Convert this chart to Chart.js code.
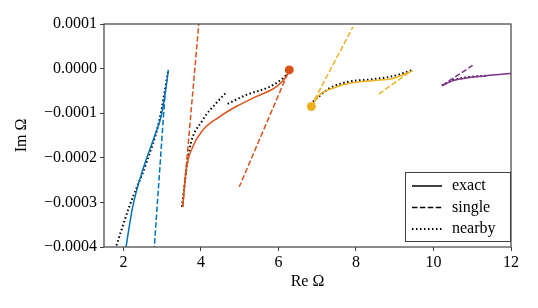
<!DOCTYPE html>
<html>
<head>
<meta charset="utf-8">
<script src="https://cdn.jsdelivr.net/npm/chart.js@4.4.0/dist/chart.umd.min.js"></script>
<style>
  html, body { margin: 0; padding: 0; background: #fff; }
  #wrap { width: 538px; height: 308px; position: relative; }
</style>
</head>
<body>
<div id="wrap"><canvas id="omegaChart"></canvas></div>
<script>
// Im values below are in units of 1e-4
const IM_UNIT = 1e-4;

const xTickValues = [2, 4, 6, 8, 10, 12];
const yTickValues = [-0.0004, -0.0003, -0.0002, -0.0001, 0, 0.0001];

// blue branch
const blueExact  = [[2.05, -4.1], [2.24, -3.10], [2.50, -2.27], [2.80, -1.53], [2.97, -1.08], [3.08, -0.55], [3.16, -0.03]];
const blueSingle = [[2.79, -4.1], [3.08, -0.50]];
const blueNearby = [[1.79, -4.05], [2.15, -3.10], [2.59, -2.12], [2.93, -1.15], [3.16, -0.03]];

// orange branch
const orangeExact   = [[3.53, -3.10], [3.62, -2.27], [3.79, -1.75], [4.05, -1.38], [4.48, -1.08], [4.91, -0.85], [5.42, -0.63], [5.94, -0.41], [6.20, -0.18], [6.28, -0.03]];
const orangeSingleA = [[3.53, -3.10], [3.95, 1.05]];
const orangeSingleB = [[6.24, -0.11], [4.99, -2.65]];
const orangeNearbyA = [[3.51, -3.10], [3.70, -1.83], [4.05, -1.15], [4.39, -0.78], [4.67, -0.52]];
const orangeNearbyB = [[4.69, -0.79], [5.17, -0.59], [5.77, -0.41], [6.11, -0.22], [6.24, -0.11]];
const orangeEnd     = [[6.28, -0.03]];

// yellow branch
const yellowExact   = [[6.85, -0.85], [7.06, -0.59], [7.40, -0.44], [7.83, -0.33], [8.43, -0.27], [8.95, -0.22], [9.47, -0.05]];
const yellowSingleA = [[6.93, -0.70], [7.92, 0.93]];
const yellowSingleB = [[8.59, -0.57], [9.35, -0.10]];
const yellowNearby  = [[6.89, -0.74], [7.32, -0.44], [7.83, -0.29], [8.43, -0.24], [8.95, -0.17], [9.47, -0.03]];
const yellowEnd     = [[6.85, -0.85]];

// purple branch
const purpleExact  = [[10.22, -0.38], [10.50, -0.27], [10.93, -0.20], [11.36, -0.16], [11.98, -0.11], [12.2, -0.10]];
const purpleSingle = [[10.22, -0.38], [11.01, 0.07]];
const purpleNearby = [[10.22, -0.38], [10.50, -0.26], [10.90, -0.19], [11.40, -0.16]];

const legendLabels = ['exact', 'single', 'nearby'];

const BLUE = '#0072BD', ORANGE = '#D95319', YELLOW = '#EDB120', PURPLE = '#7E2F8E';
const DASH = [5.5, 2.4];
const DOT = [1.5, 2.5];
const SERIF = '"Liberation Serif", "DejaVu Serif", serif';

function pts(arr) {
  return arr.map(p => ({ x: p[0], y: p[1] * IM_UNIT }));
}

function curve(arr, color, style) {
  return {
    data: pts(arr),
    showLine: true,
    borderColor: color,
    borderWidth: style === 'dot' ? 2 : 1.5,
    borderDash: style === 'dash' ? DASH : style === 'dot' ? DOT : [],
    pointRadius: 0,
    cubicInterpolationMode: 'monotone',
    fill: false
  };
}

function endDot(arr, color) {
  return {
    data: pts(arr),
    showLine: false,
    pointRadius: 4.5,
    backgroundColor: color,
    borderColor: color,
    borderWidth: 0
  };
}

const datasets = [
  curve(blueExact, BLUE, 'solid'),
  curve(blueSingle, BLUE, 'dash'),
  curve(orangeExact, ORANGE, 'solid'),
  curve(orangeSingleA, ORANGE, 'dash'),
  curve(orangeSingleB, ORANGE, 'dash'),
  curve(yellowExact, YELLOW, 'solid'),
  curve(yellowSingleA, YELLOW, 'dash'),
  curve(yellowSingleB, YELLOW, 'dash'),
  curve(purpleExact, PURPLE, 'solid'),
  curve(purpleSingle, PURPLE, 'dash'),
  curve(blueNearby, '#000', 'dot'),
  curve(orangeNearbyA, '#000', 'dot'),
  curve(orangeNearbyB, '#000', 'dot'),
  curve(yellowNearby, '#000', 'dot'),
  curve(purpleNearby, '#000', 'dot'),
  endDot(orangeEnd, ORANGE),
  endDot(yellowEnd, YELLOW)
];

// box round the plot area
const framePlugin = {
  id: 'frame',
  afterDatasetsDraw(chart) {
    const { ctx, chartArea: a } = chart;
    ctx.save();
    ctx.strokeStyle = '#404040';
    ctx.lineWidth = 1.2;
    ctx.strokeRect(a.left, a.top, a.right - a.left, a.bottom - a.top);
    ctx.restore();
  }
};

// legend box in the lower right corner
const legendPlugin = {
  id: 'boxLegend',
  afterDraw(chart) {
    const { ctx, chartArea: a } = chart;
    const x0 = a.right - 106, y0 = a.bottom - 75;
    ctx.save();
    ctx.fillStyle = '#fff';
    ctx.fillRect(x0, y0, 105, 69);
    ctx.strokeStyle = '#404040';
    ctx.lineWidth = 1;
    ctx.strokeRect(x0 + 0.5, y0 + 0.5, 105, 69);
    const dashes = [[], DASH, DOT];
    legendLabels.forEach((label, i) => {
      const y = y0 + 14 + i * 21.5;
      ctx.beginPath();
      ctx.setLineDash(dashes[i]);
      ctx.strokeStyle = '#000';
      ctx.lineWidth = i === 2 ? 2 : 1.5;
      ctx.moveTo(x0 + 7, y);
      ctx.lineTo(x0 + 37, y);
      ctx.stroke();
      ctx.setLineDash([]);
      ctx.fillStyle = '#000';
      ctx.font = '16px ' + SERIF;
      ctx.textBaseline = 'middle';
      ctx.textAlign = 'left';
      ctx.fillText(label, x0 + 47, y);
    });
    ctx.restore();
  }
};

const ctx = document.getElementById('omegaChart').getContext('2d');

const omegaChart = new Chart(ctx, {
  type: 'scatter',
  data: { datasets: datasets },
  options: {
    responsive: true,
    maintainAspectRatio: false,
    animation: false,
    layout: { padding: { top: 24, right: 27, left: 0, bottom: 0 } },
    plugins: {
      legend: { display: false },
      tooltip: { enabled: false }
    },
    scales: {
      x: {
        type: 'linear',
        min: 1.5,
        max: 12,
        afterBuildTicks: s => { s.ticks = xTickValues.map(v => ({ value: v })); },
        afterFit: s => { s.height = 61; },
        border: { display: false },
        grid: { drawOnChartArea: false, drawTicks: true, tickLength: 4, color: '#404040' },
        ticks: {
          color: '#000',
          font: { family: SERIF, size: 16 },
          padding: 2,
          maxRotation: 0,
          callback: v => String(v)
        },
        title: {
          display: true,
          text: 'Re Ω',
          color: '#000',
          font: { family: SERIF, size: 16 },
          padding: { top: 0, bottom: 17 }
        }
      },
      y: {
        type: 'linear',
        min: -0.0004,
        max: 0.0001,
        afterBuildTicks: s => { s.ticks = yTickValues.map(v => ({ value: v })); },
        afterFit: s => { s.width = 104; },
        border: { display: false },
        grid: { drawOnChartArea: false, drawTicks: true, tickLength: 4, color: '#404040' },
        ticks: {
          color: '#000',
          font: { family: SERIF, size: 16 },
          padding: 3,
          callback: v => {
            if (Math.abs(v) < 1e-12) return '0.0000';
            return v.toFixed(4).replace('-', '\u2212');
          }
        },
        title: {
          display: true,
          text: 'Im Ω',
          color: '#000',
          font: { family: SERIF, size: 16 },
          padding: { top: 12, bottom: 0 }
        }
      }
    }
  },
  plugins: [framePlugin, legendPlugin]
});
</script>
</body>
</html>
